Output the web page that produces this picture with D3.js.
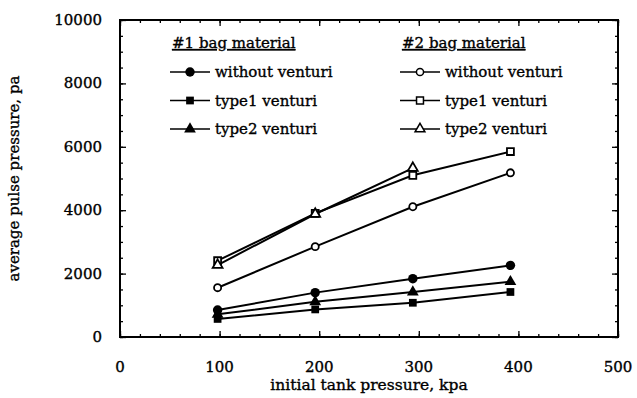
<!DOCTYPE html>
<html>
<head>
<meta charset="utf-8">
<script src="https://cdn.jsdelivr.net/npm/d3@7"></script>
<style>
  body { margin: 0; background: #fff; }
  text { font-family: "DejaVu Serif", "Liberation Serif", serif; fill: #000; stroke: #000; stroke-width: 0.35px; }
</style>
</head>
<body>
<div id="chart"></div>
<script>
// tank pressure (kpa) at which each pulse was measured
var pressures = [98, 196, 294, 392];

// #1 bag material
var bag1Without = [850, 1400, 1840, 2260];
var bag1Type1 = [570, 870, 1080, 1420];
var bag1Type2 = [715, 1110, 1420, 1745];

// #2 bag material
var bag2Without = [1555, 2850, 4110, 5180];
var bag2Type1 = [2407, 3900, 5100, 5850];
var bag2Type2 = [2270, 3880, 5330];

var xTicks = [0, 100, 200, 300, 400, 500];
var yTicks = [0, 2000, 4000, 6000, 8000, 10000];

var width = 637, height = 398;
var margin = {top: 20, right: 19, bottom: 61, left: 120};

var svg = d3.select("#chart").append("svg")
    .attr("width", width)
    .attr("height", height);

var x = d3.scaleLinear().domain([0, 500]).range([margin.left, width - margin.right]);
var y = d3.scaleLinear().domain([0, 10000]).range([height - margin.bottom, margin.top]);

var series = [
  {name: "without venturi", bag: 1, values: bag1Without, shape: "circle", filled: true},
  {name: "type1 venturi", bag: 1, values: bag1Type1, shape: "square", filled: true},
  {name: "type2 venturi", bag: 1, values: bag1Type2, shape: "triangle", filled: true},
  {name: "without venturi", bag: 2, values: bag2Without, shape: "circle", filled: false},
  {name: "type1 venturi", bag: 2, values: bag2Type1, shape: "square", filled: false},
  {name: "type2 venturi", bag: 2, values: bag2Type2, shape: "triangle", filled: false}
];

function symbolFor(s) {
  var type = s.shape == "circle" ? d3.symbolCircle : s.shape == "square" ? d3.symbolSquare : d3.symbolTriangle;
  var size = s.filled ? {circle: 70, square: 60, triangle: 60}[s.shape] : {circle: 40, square: 48, triangle: 42}[s.shape];
  return d3.symbol().type(type).size(size)();
}

// ticks, all pointing inward on the four sides
var minorX = d3.range(0, 501, 20), minorY = d3.range(0, 10001, 500);
svg.append("g").attr("transform", "translate(0," + y(0) + ")")
    .call(d3.axisBottom(x).tickValues(minorX).tickSize(-3).tickFormat(""));
svg.append("g").attr("transform", "translate(0," + y(10000) + ")")
    .call(d3.axisTop(x).tickValues(minorX).tickSize(-3).tickFormat(""));
svg.append("g").attr("transform", "translate(" + x(0) + ",0)")
    .call(d3.axisLeft(y).tickValues(minorY).tickSize(-3).tickFormat(""));
svg.append("g").attr("transform", "translate(" + x(500) + ",0)")
    .call(d3.axisRight(y).tickValues(minorY).tickSize(-3).tickFormat(""));
svg.append("g").attr("transform", "translate(0," + y(0) + ")")
    .call(d3.axisBottom(x).tickValues(xTicks).tickSize(-6).tickFormat(""));
svg.append("g").attr("transform", "translate(0," + y(10000) + ")")
    .call(d3.axisTop(x).tickValues(xTicks).tickSize(-6).tickFormat(""));
svg.append("g").attr("transform", "translate(" + x(0) + ",0)")
    .call(d3.axisLeft(y).tickValues(yTicks).tickSize(-6).tickFormat(""));
svg.append("g").attr("transform", "translate(" + x(500) + ",0)")
    .call(d3.axisRight(y).tickValues(yTicks).tickSize(-6).tickFormat(""));
svg.selectAll(".domain").remove();
svg.selectAll(".tick line").attr("stroke", "#000").attr("stroke-width", 1.3);

svg.append("rect")
    .attr("x", x(0)).attr("y", y(10000))
    .attr("width", x(500) - x(0)).attr("height", y(0) - y(10000))
    .attr("fill", "none").attr("stroke", "#000").attr("stroke-width", 2);

// tick labels
svg.selectAll(".xlab").data(xTicks).enter().append("text")
    .attr("x", function(d) { return x(d); })
    .attr("y", y(0) + 35)
    .attr("text-anchor", "middle")
    .style("font-size", "15px")
    .text(function(d) { return d; });
svg.selectAll(".ylab").data(yTicks).enter().append("text")
    .attr("x", x(0) - 18)
    .attr("y", function(d) { return y(d) + 5; })
    .attr("text-anchor", "end")
    .style("font-size", "15px")
    .text(function(d) { return d; });

svg.append("text")
    .attr("x", (x(0) + x(500)) / 2).attr("y", 390)
    .attr("text-anchor", "middle")
    .style("font-size", "15.5px")
    .text("initial tank pressure, kpa");
svg.append("text")
    .attr("transform", "translate(19," + (y(5000)) + ") rotate(-90)")
    .attr("text-anchor", "middle")
    .style("font-size", "15px")
    .text("average pulse pressure, pa");

// series
var line = d3.line()
    .x(function(d) { return x(d[0]); })
    .y(function(d) { return y(d[1]); });

series.forEach(function(s) {
  var pts = s.values.map(function(v, i) { return [pressures[i], v]; });
  svg.append("path")
      .datum(pts)
      .attr("d", line)
      .attr("fill", "none")
      .attr("stroke", "#000")
      .attr("stroke-width", 2);
  svg.selectAll(null).data(pts).enter().append("path")
      .attr("d", symbolFor(s))
      .attr("transform", function(d) { return "translate(" + x(d[0]) + "," + y(d[1]) + ")"; })
      .attr("fill", s.filled ? "#000" : "#fff")
      .attr("stroke", "#000")
      .attr("stroke-width", s.filled ? 0 : 1.8);
});

// legend, one column per bag material
var legendX = {1: 170, 2: 400};
[1, 2].forEach(function(bag) {
  var lx = legendX[bag];
  svg.append("text")
      .attr("x", lx + 2).attr("y", 48)
      .style("font-size", "15px")
      .style("text-decoration", "underline")
      .text("#" + bag + " bag material");
  series.filter(function(s) { return s.bag == bag; }).forEach(function(s, i) {
    var ly = 72 + i * 28.5;
    svg.append("line")
        .attr("x1", lx).attr("x2", lx + 40)
        .attr("y1", ly).attr("y2", ly)
        .attr("stroke", "#000").attr("stroke-width", 1.5);
    svg.append("path")
        .attr("d", symbolFor(s))
        .attr("transform", "translate(" + (lx + 20) + "," + ly + ")")
        .attr("fill", s.filled ? "#000" : "#fff")
        .attr("stroke", "#000")
        .attr("stroke-width", s.filled ? 0 : 1.5);
    svg.append("text")
        .attr("x", lx + 45).attr("y", ly + 5)
        .style("font-size", "15px")
        .text(s.name);
  });
});
</script>
</body>
</html>
